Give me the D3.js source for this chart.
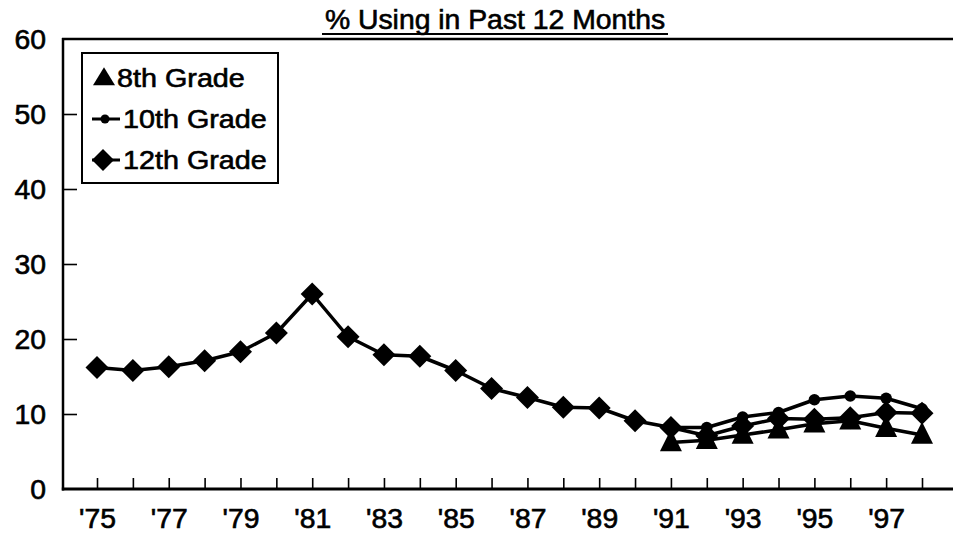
<!DOCTYPE html>
<html><head><meta charset="utf-8">
<script src="https://cdn.jsdelivr.net/npm/d3@7/dist/d3.min.js"></script>
<style>body{margin:0;background:#fff}svg{display:block}text{font-family:"Liberation Sans",Arial,sans-serif;fill:#000;stroke:#000;stroke-width:0.6px}</style>
</head><body>
<svg id="c" width="953" height="542"></svg>
<script>
const years = d3.range(1975, 1999);
const tickYears = [1975,1977,1979,1981,1983,1985,1987,1989,1991,1993,1995,1997];
const tickLabels = ["'75","'77","'79","'81","'83","'85","'87","'89","'91","'93","'95","'97"];
const yTicks = [0,10,20,30,40,50,60];
const grade12 = [16.2,15.8,16.3,17.1,18.3,20.8,26.0,20.3,17.9,17.7,15.8,13.4,12.2,10.9,10.8,9.1,8.2,7.1,8.4,9.4,9.3,9.5,10.2,10.1];
const years10 = [1991,1992,1993,1994,1995,1996,1997,1998];
const grade10 = [8.2,8.2,9.6,10.2,11.9,12.4,12.1,10.7];
const grade8  = [6.2,6.5,7.2,7.9,8.7,9.1,8.1,7.2];
const seriesNames = ["8th Grade","10th Grade","12th Grade"];
const title = "% Using in Past 12 Months";

const SX = 1.05; // slight horizontal stretch of the lettering
const FS = 27;
const svg = d3.select("#c");
const x = d3.scaleLinear().domain([1975,1998]).range([97,922]);
const y = d3.scaleLinear().domain([0,60]).range([489,39]);
const axisX0 = 63, axisX1 = 953;

// title
svg.append("text").attr("transform",`translate(495,29) scale(${SX},1)`)
  .attr("text-anchor","middle").attr("font-size",FS).text(title);
svg.append("line").attr("x1",322).attr("x2",668).attr("y1",34).attr("y2",34)
  .attr("stroke","#000").attr("stroke-width",2);

// y axis
const ya = svg.append("g").attr("transform",`translate(${axisX0},0)`)
  .call(d3.axisLeft(y).tickValues(yTicks).tickSize(-14).tickPadding(0));
ya.select(".domain").remove();
ya.selectAll(".tick line").attr("stroke","#000").attr("stroke-width",1.6);
ya.selectAll(".tick text").attr("x",null).attr("dy",null)
  .attr("transform",`translate(-17,9.7) scale(${SX},1)`)
  .attr("text-anchor","end").attr("font-size",FS).attr("font-family","Liberation Sans, Arial, sans-serif");
ya.selectAll(".tick").filter(d=>d===0||d===60).select("line").remove();
svg.append("line").attr("x1",axisX0).attr("x2",axisX0).attr("y1",y(60)-1).attr("y2",y(0)+1.5)
  .attr("stroke","#000").attr("stroke-width",2.5);
svg.append("line").attr("x1",axisX0-1).attr("x2",axisX1).attr("y1",y(60)).attr("y2",y(60))
  .attr("stroke","#000").attr("stroke-width",2.5);

// x axis
const xa = svg.append("g").attr("transform",`translate(0,${y(0)})`)
  .call(d3.axisBottom(x).tickValues(years).tickSize(-11).tickPadding(0)
    .tickFormat(d=>{const i=tickYears.indexOf(d);return i>=0?tickLabels[i]:"";}));
xa.select(".domain").remove();
xa.selectAll(".tick line").attr("stroke","#000").attr("stroke-width",1.6);
xa.selectAll(".tick text").attr("y",null).attr("dy",null)
  .attr("transform",`translate(0,39) scale(${SX},1)`)
  .attr("font-size",FS).attr("font-family","Liberation Sans, Arial, sans-serif");
svg.append("line").attr("x1",axisX0-1.2).attr("x2",axisX1).attr("y1",y(0)).attr("y2",y(0))
  .attr("stroke","#000").attr("stroke-width",3);

// markers
const diamond = (r)=>`M0,${-r}L${r},0L0,${r}L${-r},0Z`;
const triangle = (w,h)=>`M0,${-h*0.6}L${w/2},${h*0.4}L${-w/2},${h*0.4}Z`;
const line = d3.line().x(d=>x(d[0])).y(d=>y(d[1]));

const d12 = years.map((yr,i)=>[yr,grade12[i]]);
const d10 = years10.map((yr,i)=>[yr,grade10[i]]);
const d8  = years10.map((yr,i)=>[yr,grade8[i]]);

const plot = svg.append("g");
function drawLine(data){
  plot.append("path").datum(data).attr("d",line).attr("fill","none")
    .attr("stroke","#000").attr("stroke-width",3.5).attr("stroke-linejoin","round");
}
drawLine(d12); drawLine(d10); drawLine(d8);
plot.selectAll(".m8").data(d8).join("path").attr("class","m8")
  .attr("transform",d=>`translate(${x(d[0])},${y(d[1])})`).attr("d",triangle(22,22)).attr("fill","#000");
plot.selectAll(".m10").data(d10).join("circle").attr("class","m10")
  .attr("cx",d=>x(d[0])).attr("cy",d=>y(d[1])).attr("r",5.8).attr("fill","#000");
plot.selectAll(".m12").data(d12).join("path").attr("class","m12")
  .attr("transform",d=>`translate(${x(d[0])},${y(d[1])})`).attr("d",diamond(11.5)).attr("fill","#000");

// legend
const lg = svg.append("g");
lg.append("rect").attr("x",82).attr("y",53).attr("width",196).attr("height",130)
  .attr("fill","#fff").attr("stroke","#000").attr("stroke-width",2);
const rowsY = [78,119,160];
seriesNames.forEach((name,i)=>{
  const ry = rowsY[i];
  if(i>0) lg.append("line").attr("x1",92).attr("x2",120).attr("y1",ry).attr("y2",ry)
    .attr("stroke","#000").attr("stroke-width",3);
  if(i===0) lg.append("path").attr("transform",`translate(104,${ry})`).attr("d",triangle(22,18)).attr("fill","#000");
  if(i===1) lg.append("circle").attr("cx",105).attr("cy",ry).attr("r",4.5).attr("fill","#000");
  if(i===2) lg.append("path").attr("transform",`translate(103,${ry})`).attr("d",diamond(11)).attr("fill","#000");
  lg.append("text").attr("transform",`translate(${i===0?117:123},${ry+9}) scale(1.15,1)`)
    .attr("font-size",25).text(name);
});
</script>
</body></html>
